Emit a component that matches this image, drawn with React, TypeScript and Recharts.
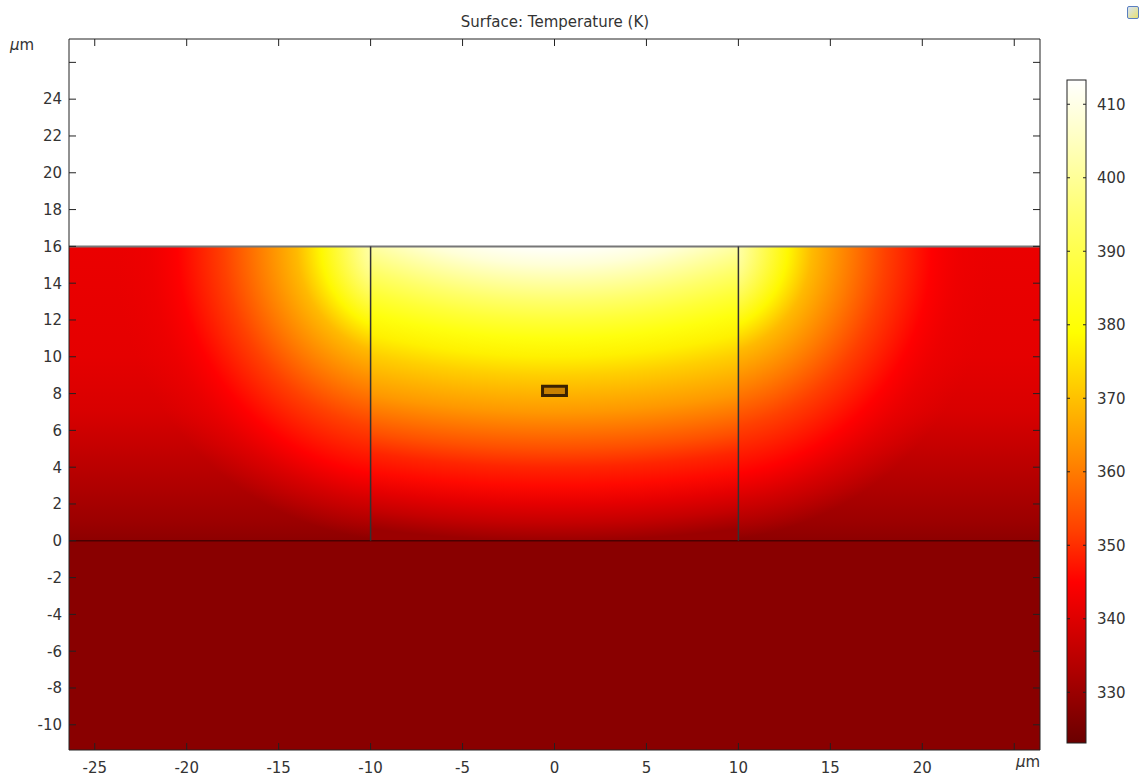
import { ScatterChart, XAxis, YAxis, ReferenceArea, ReferenceLine } from 'recharts';

// axes (µm)
const xTicks = [-25, -20, -15, -10, -5, 0, 5, 10, 15, 20, 25];
const yTicks = [-10, -8, -6, -4, -2, 0, 2, 4, 6, 8, 10, 12, 14, 16, 18, 20, 22, 24, 26];
const xDomain = [-26.4, 26.4];
const yDomain = [-11.37, 27.27];

// colour legend: temperature (K) -> colour
const scaleT = [323.1, 333, 345, 352, 362, 371, 379, 395, 405, 413.3];
const scaleColors = ['#6a0000', '#b00000', '#ff0000', '#ff4000', '#ff8a00', '#ffc800', '#ffff00', '#ffff70', '#ffffc0', '#ffffff'];
const barTicks = [330, 340, 350, 360, 370, 380, 390, 400, 410];

// temperature down the centre line x = 0
const centerY = [16, 15, 14, 13, 12, 11, 10, 9, 8, 7, 6, 5, 4, 3, 2, 1, 0];
const centerT = [413, 408, 401, 394, 387, 381, 377, 372, 368, 364, 359, 354, 349, 346, 341, 336, 330];

// temperature at the outer edges of the side blocks
const edgeY = [16, 10, 7, 5, 3, 1, 0];
const edgeT = [342, 341, 339, 336, 333, 330, 328];

// temperature in the side blocks vs distance from the inner top corner
const spreadR = [0, 2, 4.7, 6, 8.1, 10, 12.5, 14, 16];
const spreadT = [413, 402, 378, 369, 360, 352, 345, 343, 342];

const substrateT = 327.5;

// geometry of the model
const blocks = [
  { id: 'left', x1: -26.4, x2: -10, y1: 0, y2: 16, hotX: -8 },
  { id: 'middle', x1: -10, x2: 10, y1: 0, y2: 16, hotX: 0 },
  { id: 'right', x1: 10, x2: 26.4, y1: 0, y2: 16, hotX: 8 },
];
const substrate = { x1: -26.4, x2: 26.4, y1: -11.37, y2: 0 };
const heater = { x1: -0.65, x2: 0.65, y1: 7.9, y2: 8.4 };

// shape of the hot zone in the middle block
const midFocusY = 22.1;
const midStretch = 1.88;

const font = 'DejaVu Sans, sans-serif';

function hex(c: string) {
  return [1, 3, 5].map((i) => parseInt(c.slice(i, i + 2), 16));
}

function tempColor(t: number) {
  if (t <= scaleT[0]) return scaleColors[0];
  for (let i = 1; i < scaleT.length; i++) {
    if (t <= scaleT[i]) {
      const f = (t - scaleT[i - 1]) / (scaleT[i] - scaleT[i - 1]);
      const a = hex(scaleColors[i - 1]);
      const b = hex(scaleColors[i]);
      const c = a.map((v, k) => Math.round(v + (b[k] - v) * f));
      return `rgb(${c[0]},${c[1]},${c[2]})`;
    }
  }
  return scaleColors[scaleColors.length - 1];
}

function FieldBlock(props: any) {
  const { x, y, width, height, block } = props;
  const ux = width / (block.x2 - block.x1);
  const uy = height / (block.y2 - block.y1);
  const px = (v: number) => x + (v - block.x1) * ux;
  const py = (v: number) => y + (block.y2 - v) * uy;

  if (block.id === 'middle') {
    const cx = px(block.hotX);
    const cy = py(midFocusY);
    const sx = (midStretch * ux) / uy;
    return (
      <g>
        <defs>
          <radialGradient
            id="g-middle"
            gradientUnits="userSpaceOnUse"
            cx={cx}
            cy={cy}
            r={midFocusY * uy}
            gradientTransform={`translate(${cx} ${cy}) scale(${sx} 1) translate(${-cx} ${-cy})`}
          >
            {centerY.map((v, i) => (
              <stop key={i} offset={(midFocusY - v) / midFocusY} stopColor={tempColor(centerT[i])} />
            ))}
          </radialGradient>
        </defs>
        <rect x={x} y={y} width={width} height={height} fill="url(#g-middle)" />
      </g>
    );
  }

  const cx = px(block.hotX);
  const cy = py(16);
  const rMax = spreadR[spreadR.length - 1];
  return (
    <g>
      <defs>
        <linearGradient id={`g-${block.id}-base`} gradientUnits="userSpaceOnUse" x1={0} x2={0} y1={py(16)} y2={py(0)}>
          {edgeY.map((v, i) => (
            <stop key={i} offset={(16 - v) / 16} stopColor={tempColor(edgeT[i])} />
          ))}
        </linearGradient>
        <radialGradient
          id={`g-${block.id}-hot`}
          gradientUnits="userSpaceOnUse"
          cx={cx}
          cy={cy}
          r={rMax * ux}
          gradientTransform={`translate(${cx} ${cy}) scale(1 ${uy / ux}) translate(${-cx} ${-cy})`}
        >
          {spreadR.map((r, i) => (
            <stop
              key={i}
              offset={r / rMax}
              stopColor={tempColor(spreadT[i])}
              stopOpacity={r <= 12.5 ? 1 : (rMax - r) / (rMax - 12.5)}
            />
          ))}
        </radialGradient>
      </defs>
      <rect x={x} y={y} width={width} height={height} fill={`url(#g-${block.id}-base)`} />
      <rect x={x} y={y} width={width} height={height} fill={`url(#g-${block.id}-hot)`} />
    </g>
  );
}

function ColorBar(props: any) {
  const { x, y, width, height } = props;
  const lo = scaleT[0];
  const hi = scaleT[scaleT.length - 1];
  return (
    <g>
      <defs>
        <linearGradient id="g-bar" x1={0} y1={1} x2={0} y2={0}>
          {scaleT.map((t, i) => (
            <stop key={i} offset={(t - lo) / (hi - lo)} stopColor={scaleColors[i]} />
          ))}
        </linearGradient>
      </defs>
      <rect x={x} y={y} width={width} height={height} fill="url(#g-bar)" stroke="#222" strokeWidth={1} />
    </g>
  );
}

const tickStyle = { fill: '#333', fontSize: 15, fontFamily: font };
const noLabel = () => <g />;
const barDomain = [scaleT[0], scaleT[scaleT.length - 1]];
const plotMargin = { top: 38, right: 99, bottom: 0, left: 0 };
const barMargin = { top: 80, right: 0, bottom: 33, left: 26 };

// axes of the field plot; drawn twice (invisible under the field, visible on top)
function fieldAxes(show: boolean) {
  const line = show ? '#222' : 'none';
  return [
    <XAxis key="b" xAxisId="b" dataKey="x" type="number" domain={xDomain} ticks={xTicks} allowDataOverflow
      tickSize={-7} tickMargin={19} height={26} stroke={line} tick={show ? tickStyle : noLabel}
      tickLine={show} axisLine={show} tickFormatter={(v: number) => (v === 25 ? '' : String(v))} />,
    <XAxis key="t" xAxisId="t" dataKey="x" orientation="top" type="number" domain={xDomain} ticks={xTicks} allowDataOverflow
      tickSize={-7} height={1} stroke={line} tick={noLabel} tickLine={show} axisLine={show} />,
    <YAxis key="l" yAxisId="l" dataKey="y" type="number" domain={yDomain} ticks={yTicks} allowDataOverflow
      tickSize={-7} tickMargin={14} width={69} stroke={line} tick={show ? tickStyle : noLabel}
      tickLine={show} axisLine={show} tickFormatter={(v: number) => (v === 26 ? '' : String(v))} />,
    <YAxis key="r" yAxisId="r" dataKey="y" orientation="right" type="number" domain={yDomain} ticks={yTicks} allowDataOverflow
      tickSize={-7} width={1} stroke={line} tick={noLabel} tickLine={show} axisLine={show} />,
  ];
}

function barAxes(show: boolean) {
  const line = show ? '#222' : 'none';
  return [
    <XAxis key="c" xAxisId="c" dataKey="x" type="number" domain={[0, 1]} allowDataOverflow
      height={0} axisLine={false} tickLine={false} tick={false} />,
    <YAxis key="c" yAxisId="c" dataKey="t" orientation="right" type="number" domain={barDomain}
      ticks={barTicks} allowDataOverflow width={54} tickSize={-3} tickMargin={14}
      axisLine={false} tickLine={show} stroke={line} tick={show ? tickStyle : noLabel} />,
    <YAxis key="c2" yAxisId="c2" dataKey="t" orientation="left" type="number" domain={barDomain}
      ticks={barTicks} allowDataOverflow width={1} tickSize={-3} axisLine={false} tickLine={show}
      stroke={line} tick={noLabel} />,
  ];
}

const layer = { position: 'absolute' as const, left: 0, top: 0 };

export default function App() {
  return (
    <div style={{ position: 'absolute', left: 0, top: 0, width: 1140, height: 776, background: '#fff' }}>
      <div style={{ position: 'absolute', left: 0, top: 13, width: 1110, textAlign: 'center', fontFamily: font, fontSize: 15, color: '#333' }}>
        Surface: Temperature (K)
      </div>
      <div style={{ position: 'absolute', left: 10, top: 36, fontFamily: font, fontSize: 15, color: '#333' }}>
        <i>μ</i>m
      </div>
      <div style={{ position: 'absolute', left: 1016, top: 753, fontFamily: font, fontSize: 15, color: '#333' }}>
        <i>μ</i>m
      </div>
      <div style={{ position: 'absolute', left: 1127, top: 6, width: 10, height: 11, border: '1px solid #5a7fc0',
        background: 'linear-gradient(135deg, #d8e4f6, #e8e070)', borderRadius: 2 }} />

      <div style={layer}>
        <ScatterChart width={1140} height={776} margin={plotMargin}>
          {fieldAxes(false)}
          <ReferenceArea xAxisId="b" yAxisId="l" x1={substrate.x1} x2={substrate.x2} y1={substrate.y1} y2={substrate.y2}
            fill={tempColor(substrateT)} fillOpacity={1} stroke="none" />
          {blocks.map((b) => (
            <ReferenceArea key={b.id} xAxisId="b" yAxisId="l" x1={b.x1} x2={b.x2} y1={b.y1} y2={b.y2}
              shape={(p: any) => <FieldBlock {...p} block={b} />} />
          ))}
          <ReferenceArea xAxisId="b" yAxisId="l" x1={heater.x1} x2={heater.x2} y1={heater.y1} y2={heater.y2}
            fill="#c88000" fillOpacity={1} stroke="#3b2200" strokeWidth={3} />

          <ReferenceLine xAxisId="b" yAxisId="l" segment={[{ x: xDomain[0], y: 16 }, { x: xDomain[1], y: 16 }]} stroke="#777" strokeWidth={2} />
          <ReferenceLine xAxisId="b" yAxisId="l" segment={[{ x: xDomain[0], y: 0 }, { x: xDomain[1], y: 0 }]} stroke="#4a0000" strokeWidth={1.5} />
          <ReferenceLine xAxisId="b" yAxisId="l" segment={[{ x: -10, y: 0 }, { x: -10, y: 16 }]} stroke="#333" strokeWidth={1.5} />
          <ReferenceLine xAxisId="b" yAxisId="l" segment={[{ x: 10, y: 0 }, { x: 10, y: 16 }]} stroke="#333" strokeWidth={1.5} />
        </ScatterChart>
      </div>
      <div style={layer}>
        <ScatterChart width={1140} height={776} margin={plotMargin}>
          {fieldAxes(true)}
        </ScatterChart>
      </div>

      <div style={{ ...layer, left: 1040 }}>
        <ScatterChart width={100} height={776} margin={barMargin}>
          {barAxes(false)}
          <ReferenceArea xAxisId="c" yAxisId="c" x1={0} x2={1} y1={barDomain[0]} y2={barDomain[1]}
            shape={(p: any) => <ColorBar {...p} />} />
        </ScatterChart>
      </div>
      <div style={{ ...layer, left: 1040 }}>
        <ScatterChart width={100} height={776} margin={barMargin}>
          {barAxes(true)}
        </ScatterChart>
      </div>
    </div>
  );
}
